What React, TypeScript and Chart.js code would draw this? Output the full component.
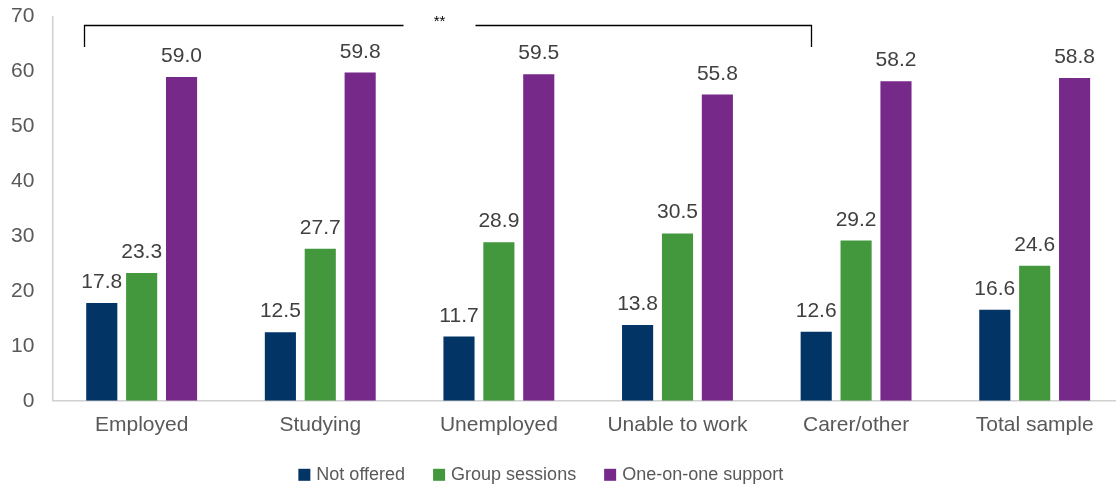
import React, { useEffect, useRef } from "react";
import { Chart, registerables } from "chart.js";

Chart.register(...registerables);

const categories = ["Employed", "Studying", "Unemployed", "Unable to work", "Carer/other", "Total sample"];
const notOffered = [17.8, 12.5, 11.7, 13.8, 12.6, 16.6];
const groupSessions = [23.3, 27.7, 28.9, 30.5, 29.2, 24.6];
const oneOnOne = [59.0, 59.8, 59.5, 55.8, 58.2, 58.8];
const seriesNames = ["Not offered", "Group sessions", "One-on-one support"];
const colors = ["#023466", "#43973c", "#77298a"];
const bracketFrom = 0;
const bracketTo = 4;
const bracketLabel = "**";

const FONT = "'Liberation Sans', Arial, sans-serif";
const SHIFT_X = 7;
const SHIFT_Y = 14;

const valueLabels = {
  id: "valueLabels",
  afterDatasetsDraw(chart: any) {
    const ctx = chart.ctx;
    ctx.save();
    ctx.font = `21px ${FONT}`;
    ctx.fillStyle = "#404040";
    ctx.textAlign = "center";
    ctx.textBaseline = "alphabetic";
    chart.data.datasets.forEach((ds: any, i: number) => {
      const meta = chart.getDatasetMeta(i);
      meta.data.forEach((bar: any, j: number) => {
        ctx.fillText(ds.data[j].toFixed(1), bar.x, bar.y - 15);
      });
    });
    ctx.restore();
  },
};

const bracket = {
  id: "bracket",
  afterDatasetsDraw(chart: any) {
    const ctx = chart.ctx;
    const xs = chart.scales.x;
    const ys = chart.scales.y;
    const x1 = Math.round(xs.getPixelForValue(bracketFrom) - 58);
    const x2 = Math.round(xs.getPixelForValue(bracketTo) - 45);
    const yTop = Math.round(ys.getPixelForValue(68.4));
    const yBot = Math.round(ys.getPixelForValue(64.5));
    const mid = (x1 + x2) / 2 - 8;
    ctx.save();
    ctx.strokeStyle = "#000";
    ctx.lineWidth = 1.3;
    ctx.beginPath();
    ctx.moveTo(x1 + 0.5, yBot);
    ctx.lineTo(x1 + 0.5, yTop + 0.5);
    ctx.lineTo(mid - 36, yTop + 0.5);
    ctx.moveTo(mid + 36, yTop + 0.5);
    ctx.lineTo(x2 + 0.5, yTop + 0.5);
    ctx.lineTo(x2 + 0.5, yBot);
    ctx.stroke();
    ctx.font = `15px ${FONT}`;
    ctx.fillStyle = "#000";
    ctx.textAlign = "center";
    ctx.textBaseline = "middle";
    ctx.fillText(bracketLabel, mid, yTop - 3);
    ctx.restore();
  },
};

const customLegend = {
  id: "customLegend",
  afterDraw(chart: any) {
    const ctx = chart.ctx;
    const area = chart.chartArea;
    ctx.save();
    ctx.font = `18px ${FONT}`;
    ctx.textBaseline = "middle";
    ctx.textAlign = "left";
    let x = area.left + 246;
    const cy = area.bottom + 74;
    chart.data.datasets.forEach((ds: any) => {
      ctx.fillStyle = ds.backgroundColor;
      ctx.fillRect(x, cy - 6, 12, 12);
      x += 18;
      ctx.fillStyle = "#595959";
      ctx.fillText(ds.label, x, cy);
      x += ctx.measureText(ds.label).width + 28;
    });
    ctx.restore();
  },
};

export default function App() {
  const ref = useRef<HTMLCanvasElement>(null);
  useEffect(() => {
    document.body.style.margin = "0";
    document.body.style.overflow = "hidden";
    const chart = new Chart(ref.current!, {
      type: "bar",
      data: {
        labels: categories,
        datasets: [notOffered, groupSessions, oneOnOne].map((d, i) => ({
          label: seriesNames[i],
          data: d,
          backgroundColor: colors[i],
          barPercentage: 0.78,
          categoryPercentage: 0.67,
        })),
      },
      options: {
        animation: false,
        responsive: false,
        maintainAspectRatio: false,
        layout: { padding: { top: 0, right: 0, left: 0, bottom: 38 } },
        plugins: {
          tooltip: { enabled: false },
          legend: { display: false },
        },
        scales: {
          x: {
            grid: { display: false, drawTicks: false },
            border: { color: "#d0d0d0", width: 1.5 },
            ticks: { font: { family: FONT, size: 21 }, color: "#595959", padding: 12 },
          },
          y: {
            min: 0,
            max: 70,
            grid: { display: false, drawTicks: false },
            border: { color: "#d0d0d0", width: 1.5 },
            ticks: { stepSize: 10, font: { family: FONT, size: 21 }, color: "#595959", padding: 18 },
          },
        },
      },
      plugins: [valueLabels, bracket, customLegend],
    });
    return () => chart.destroy();
  }, []);
  return (
    <div style={{ width: 1116, height: 488, overflow: "hidden", position: "relative" }}>
      <canvas
        ref={ref}
        width={1131}
        height={502}
        style={{ display: "block", position: "absolute", left: -SHIFT_X, top: -SHIFT_Y }}
      />
    </div>
  );
}
